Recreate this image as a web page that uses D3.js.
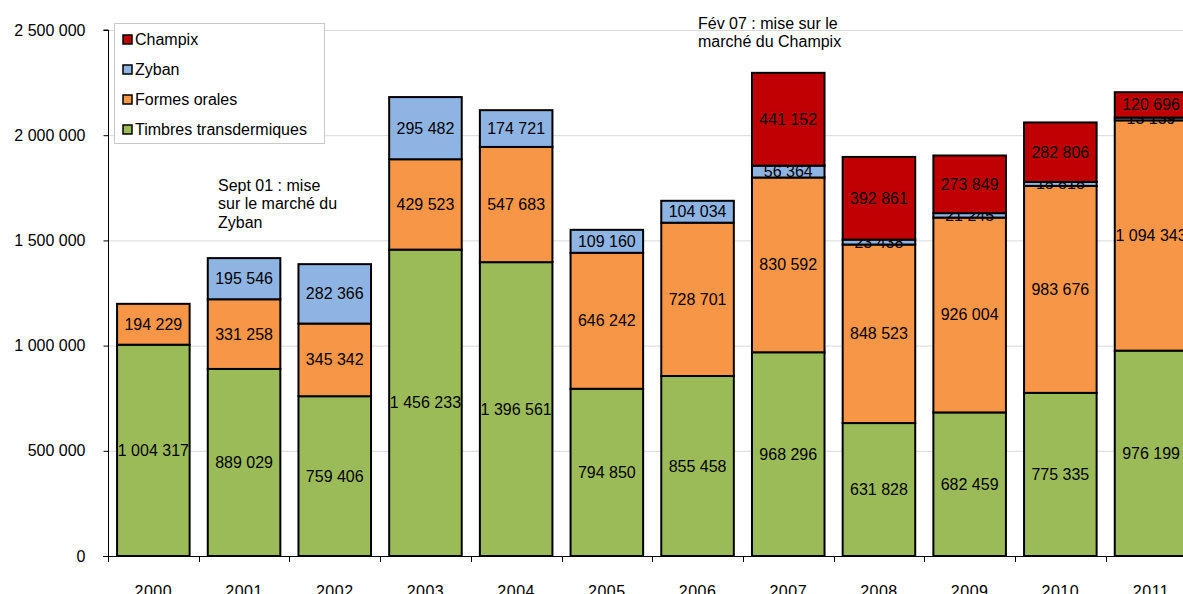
<!DOCTYPE html>
<html>
<head>
<meta charset="utf-8">
<script src="https://cdn.jsdelivr.net/npm/d3@7"></script>
<style>
  body { margin: 0; background: #fff; }
  svg { display: block; font-family: "Liberation Sans", Arial, sans-serif; }
</style>
</head>
<body>
<div id="chart"></div>
<script>
var years = ["2000", "2001", "2002", "2003", "2004", "2005", "2006", "2007", "2008", "2009", "2010", "2011"];
var timbres = [1004317, 889029, 759406, 1456233, 1396561, 794850, 855458, 968296, 631828, 682459, 775335, 976199];
var formes = [194229, 331258, 345342, 429523, 547683, 646242, 728701, 830592, 848523, 926004, 983676, 1094343];
var zyban = [0, 195546, 282366, 295482, 174721, 109160, 104034, 56364, 23438, 21245, 18818, 13139];
var champix = [0, 0, 0, 0, 0, 0, 0, 441152, 392861, 273849, 282806, 120696];
var yTicks = [0, 500000, 1000000, 1500000, 2000000, 2500000];

var seriesNames = ["Timbres transdermiques", "Formes orales", "Zyban", "Champix"];
var seriesColors = ["#9bbb59", "#f79646", "#8eb4e3", "#c00000"];

var width = 1183, height = 594;

var svg = d3.select("#chart").append("svg")
  .attr("width", width)
  .attr("height", height);

var x = d3.scaleBand()
  .domain(years)
  .range([108, 108 + 12 * 90.7])
  .paddingInner(0.2)
  .paddingOuter(0.1);

var y = d3.scaleLinear()
  .domain([0, 2500000])
  .range([556, 30]);

var fr = d3.formatLocale({decimal: ",", thousands: " ", grouping: [3], currency: ["", " €"]});
var fmt = fr.format(",d");

// build table for the stack
var table = years.map(function (yr, i) {
  return {year: yr, "Timbres transdermiques": timbres[i], "Formes orales": formes[i], "Zyban": zyban[i], "Champix": champix[i]};
});
var stacked = d3.stack().keys(seriesNames)(table);

// grid lines
svg.append("g").selectAll("line")
  .data(yTicks.slice(1))
  .enter().append("line")
  .attr("x1", 108).attr("x2", width)
  .attr("y1", function (d) { return y(d) + 0.5; })
  .attr("y2", function (d) { return y(d) + 0.5; })
  .attr("stroke", "#d9d9d9")
  .attr("stroke-width", 1);

// bars
var layers = svg.append("g").selectAll("g.layer")
  .data(stacked)
  .enter().append("g")
  .attr("class", "layer")
  .attr("fill", function (d, i) { return seriesColors[i]; });

layers.selectAll("rect")
  .data(function (d) { return d.filter(function (s) { return s[1] - s[0] > 0; }); })
  .enter().append("rect")
  .attr("x", function (d) { return x(d.data.year); })
  .attr("y", function (d) { return y(d[1]); })
  .attr("width", x.bandwidth())
  .attr("height", function (d) { return y(d[0]) - y(d[1]); })
  .attr("stroke", "#000")
  .attr("stroke-width", 2);

// value labels
layers.selectAll("text")
  .data(function (d) {
    var key = d.key;
    return d.filter(function (s) { return s[1] - s[0] > 0; })
      .map(function (s) { return {s: s, v: s.data[key]}; });
  })
  .enter().append("text")
  .attr("x", function (d) { return x(d.s.data.year) + x.bandwidth() / 2; })
  .attr("y", function (d) { return (y(d.s[0]) + y(d.s[1])) / 2; })
  .attr("text-anchor", "middle")
  .attr("dominant-baseline", "central")
  .attr("fill", "#000")
  .style("font-size", "16px")
  .text(function (d) { return fmt(d.v); });

// y axis
var yAxis = d3.axisLeft(y)
  .tickValues(yTicks)
  .tickFormat(fmt)
  .tickSize(5)
  .tickPadding(18);

var ya = svg.append("g")
  .attr("transform", "translate(108.5,0)")
  .call(yAxis);
ya.selectAll("text").style("font-size", "16px").attr("fill", "#000");
ya.select(".domain").attr("d", "M-5," + y(2500000) + "H0V" + y(0));
ya.selectAll("line").attr("stroke", "#000");

// x axis line and ticks at category boundaries
var step = x.step();
var boundaries = years.map(function (yr) { return x(yr) - (step - x.bandwidth()) / 2; });
boundaries.push(boundaries[boundaries.length - 1] + step);

svg.append("line")
  .attr("x1", 103).attr("x2", width)
  .attr("y1", y(0) + 0.5).attr("y2", y(0) + 0.5)
  .attr("stroke", "#000");

svg.append("g").selectAll("line")
  .data(boundaries)
  .enter().append("line")
  .attr("x1", function (d) { return Math.round(d) + 0.5; })
  .attr("x2", function (d) { return Math.round(d) + 0.5; })
  .attr("y1", y(0)).attr("y2", y(0) + 6)
  .attr("stroke", "#000");

svg.append("g").selectAll("text")
  .data(years)
  .enter().append("text")
  .attr("x", function (d) { return x(d) + x.bandwidth() / 2; })
  .attr("y", 597)
  .attr("text-anchor", "middle")
  .style("font-size", "16px")
  .style("letter-spacing", "0.5px")
  .text(function (d) { return d; });

// legend
var legend = svg.append("g");
legend.append("rect")
  .attr("x", 114.5).attr("y", 23.5)
  .attr("width", 210).attr("height", 120)
  .attr("fill", "#fff")
  .attr("stroke", "#c8c8c8");

var legendOrder = [3, 2, 1, 0];
legendOrder.forEach(function (si, k) {
  var cy = 39 + k * 30;
  legend.append("rect")
    .attr("x", 123).attr("y", cy - 4)
    .attr("width", 9).attr("height", 9)
    .attr("fill", seriesColors[si])
    .attr("stroke", "#000")
    .attr("stroke-width", 1.5);
  legend.append("text")
    .attr("x", 135).attr("y", cy)
    .attr("dominant-baseline", "central")
    .style("font-size", "16px")
    .text(seriesNames[si]);
});

// annotations
var notes = [
  {x: 218, y: 185, lines: ["Sept 01 : mise", "sur le marché du", "Zyban"]},
  {x: 698, y: 23, lines: ["Fév 07 : mise sur le", "marché du Champix"]}
];
notes.forEach(function (n) {
  n.lines.forEach(function (l, i) {
    svg.append("text")
      .attr("x", n.x).attr("y", n.y + i * 18.5)
      .attr("dominant-baseline", "central")
      .style("font-size", "16px")
      .text(l);
  });
});
</script>
</body>
</html>
